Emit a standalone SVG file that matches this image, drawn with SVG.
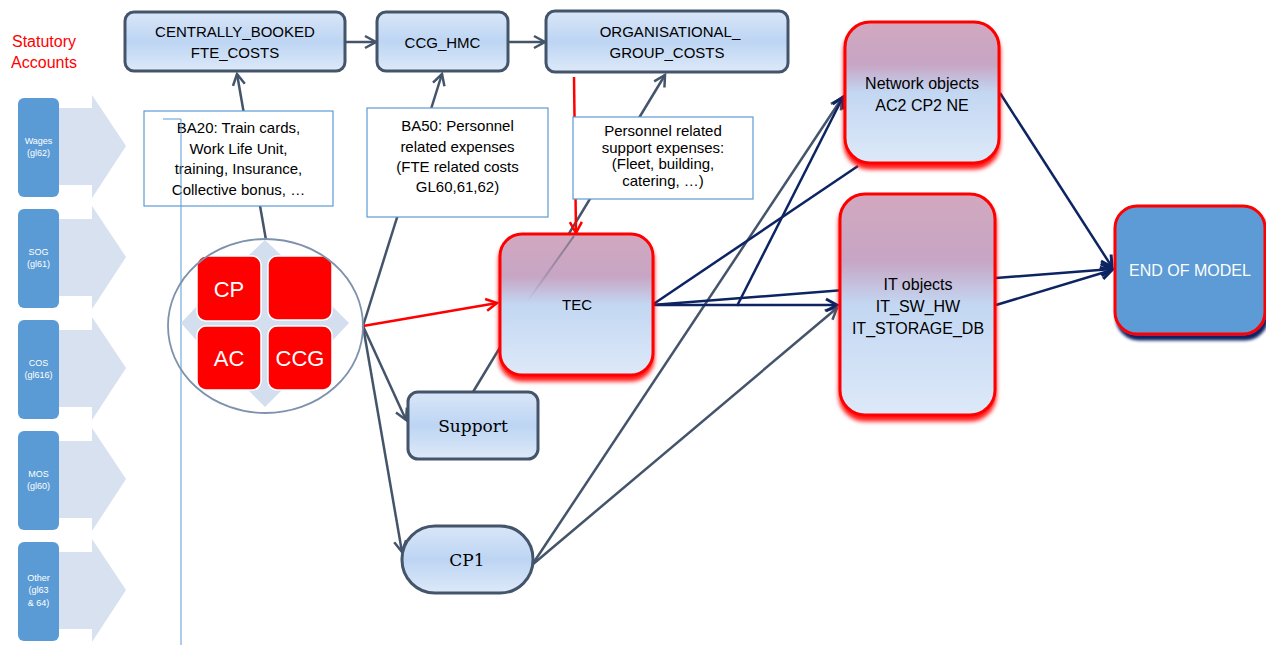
<svg xmlns="http://www.w3.org/2000/svg" width="1266" height="645" viewBox="0 0 1266 645">
<style>
.lbl{font-family:"Liberation Sans",Arial,sans-serif;font-size:15px;fill:#000;text-anchor:middle}
.big{font-size:16px}
.serif{font-family:"DejaVu Serif","Liberation Serif",serif;font-size:17px;fill:#000;text-anchor:middle}
.acc{font-family:"Liberation Sans",Arial,sans-serif;font-size:9px;fill:#fff;text-anchor:middle}
.sq{font-family:"Liberation Sans",Arial,sans-serif;font-size:22px;fill:#fff;text-anchor:middle}
.node{fill:url(#gBlue);stroke:#44546a;stroke-width:3}
.rnode{fill:url(#gRed);stroke:#ff0000;stroke-width:3;filter:url(#glow)}
.note{fill:#fff;stroke:#5b9bd5;stroke-width:1.2}
.g{stroke:#44546a;stroke-width:2.5;fill:none}
.n{stroke:#0d2463;stroke-width:2.5;fill:none}
.r{stroke:#ff0000;stroke-width:2.5;fill:none}
.acbox{fill:#5b9bd5}
.chev{fill:#d7e1ef}
.redsq{fill:#ff0000;stroke:#fff;stroke-width:1.5}
</style>
<defs>
<linearGradient id="gBlue" x1="0" y1="0" x2="0" y2="1">
<stop offset="0" stop-color="#d9e6f8"/><stop offset="0.5" stop-color="#bdd5f3"/><stop offset="1" stop-color="#dde9f9"/>
</linearGradient>
<linearGradient id="gRed" x1="0" y1="0" x2="0" y2="1">
<stop offset="0" stop-color="#d2a8bf"/><stop offset="0.3" stop-color="#c7a5c4"/><stop offset="0.5" stop-color="#c3d7f2"/><stop offset="1" stop-color="#dde9f9"/>
</linearGradient>
<linearGradient id="gFade" x1="0" y1="0" x2="0" y2="1">
<stop offset="0" stop-color="#44546a" stop-opacity="0.6"/><stop offset="1" stop-color="#44546a" stop-opacity="0"/>
</linearGradient>
<filter id="glow" x="-20%" y="-20%" width="140%" height="150%">
<feDropShadow dx="0" dy="5" stdDeviation="2" flood-color="#ff0000" flood-opacity="0.9"/>
</filter>
<filter id="navyShadow" x="-20%" y="-20%" width="140%" height="150%">
<feDropShadow dx="2" dy="5" stdDeviation="1.5" flood-color="#0d2463" flood-opacity="1"/>
</filter>
<marker id="ag" markerUnits="userSpaceOnUse" markerWidth="16" markerHeight="16" refX="13" refY="8" orient="auto"><path d="M2,2 L13,8 L2,14" fill="none" stroke="#44546a" stroke-width="2.5"/></marker>
<marker id="an" markerUnits="userSpaceOnUse" markerWidth="16" markerHeight="16" refX="13" refY="8" orient="auto"><path d="M2,2 L13,8 L2,14" fill="none" stroke="#0d2463" stroke-width="3"/></marker>
<marker id="ar" markerUnits="userSpaceOnUse" markerWidth="16" markerHeight="16" refX="13" refY="8" orient="auto"><path d="M2,2 L13,8 L2,14" fill="none" stroke="#ff0000" stroke-width="2.5"/></marker>
</defs>

<g id="statutory-title"><text x="44" y="47" font-family="Liberation Sans,Arial,sans-serif" font-size="16" fill="#ff0000" text-anchor="middle">Statutory</text><text x="44" y="68" font-family="Liberation Sans,Arial,sans-serif" font-size="16" fill="#ff0000" text-anchor="middle">Accounts</text></g>

<g id="acc-wages"><path class="chev" d="M59,108 H92 V95 L126,146 L92,198 V185 H59 Z"/><rect class="acbox" x="18" y="98" width="41" height="99" rx="6"/><text class="acc" x="38.5" y="144">Wages</text><text class="acc" x="38.5" y="156">(gl62)</text></g>
<g id="acc-sog"><path class="chev" d="M59,219 H92 V206 L126,257 L92,309 V296 H59 Z"/><rect class="acbox" x="18" y="209" width="41" height="99" rx="6"/><text class="acc" x="38.5" y="255">SOG</text><text class="acc" x="38.5" y="267">(gl61)</text></g>
<g id="acc-cos"><path class="chev" d="M59,330 H92 V317 L126,368 L92,420 V407 H59 Z"/><rect class="acbox" x="18" y="320" width="41" height="99" rx="6"/><text class="acc" x="38.5" y="366">COS</text><text class="acc" x="38.5" y="378">(gl616)</text></g>
<g id="acc-mos"><path class="chev" d="M59,441 H92 V428 L126,479 L92,531 V518 H59 Z"/><rect class="acbox" x="18" y="431" width="41" height="99" rx="6"/><text class="acc" x="38.5" y="477">MOS</text><text class="acc" x="38.5" y="489">(gl60)</text></g>
<g id="acc-other"><path class="chev" d="M59,552 H92 V539 L126,590 L92,642 V629 H59 Z"/><rect class="acbox" x="18" y="542" width="41" height="99" rx="6"/><text class="acc" x="38.5" y="581">Other</text><text class="acc" x="38.5" y="593">(gl63</text><text class="acc" x="38.5" y="606">&amp; 64)</text></g>

<g id="connectors">
<line class="g" x1="345" y1="42" x2="376" y2="42" marker-end="url(#ag)"/>
<line class="g" x1="508" y1="42" x2="545" y2="42" marker-end="url(#ag)"/>
<line class="g" x1="266" y1="240" x2="237" y2="74" marker-end="url(#ag)"/>
<line class="g" x1="363" y1="326" x2="442" y2="74" marker-end="url(#ag)"/>
<line class="g" x1="363" y1="326" x2="406" y2="420" marker-end="url(#ag)"/>
<line class="g" x1="363" y1="326" x2="402" y2="552" marker-end="url(#ag)"/>
<line class="g" x1="473" y1="392" x2="665" y2="75" marker-end="url(#ag)"/>
<line class="g" x1="532" y1="565" x2="842" y2="98" marker-end="url(#ag)"/>
<line class="g" x1="532" y1="565" x2="837" y2="308" marker-end="url(#ag)"/>
<line class="r" x1="363" y1="326" x2="497" y2="303" marker-end="url(#ar)"/>
<line class="r" x1="574" y1="77" x2="576" y2="233" marker-end="url(#ar)"/>
<line class="n" x1="652" y1="305" x2="858" y2="166"/>
<line class="n" x1="652" y1="305" x2="837" y2="305" marker-end="url(#an)"/>
<line class="n" x1="652" y1="305" x2="1112" y2="269" marker-end="url(#an)"/>
<line class="n" x1="737" y1="306" x2="843" y2="97" marker-end="url(#an)"/>
<line class="n" x1="996" y1="305" x2="1112" y2="270" marker-end="url(#an)"/>
<line class="n" x1="1000" y1="93" x2="1112" y2="267" marker-end="url(#an)"/>
</g>

<g id="cb"><rect class="node" x="125" y="12" width="220" height="59" rx="9"/><text class="lbl" x="235" y="37">CENTRALLY_BOOKED</text><text class="lbl" x="235" y="58">FTE_COSTS</text></g>
<g id="ccg-hmc"><rect class="node" x="377" y="12" width="131" height="59" rx="9"/><text class="lbl" x="442.5" y="48">CCG_HMC</text></g>
<g id="org"><rect class="node" x="546" y="11" width="242" height="61" rx="9"/><text class="lbl" x="670" y="37">ORGANISATIONAL_</text><text class="lbl" x="667" y="58">GROUP_COSTS</text></g>

<g id="note-ba20"><rect class="note" x="144" y="111" width="189" height="95"/><text class="lbl" x="238.5" y="133">BA20: Train cards,</text><text class="lbl" x="238.5" y="154">Work Life Unit,</text><text class="lbl" x="238.5" y="174">training, Insurance,</text><text class="lbl" x="238.5" y="195">Collective bonus, …</text></g>
<g id="note-ba50"><rect class="note" x="367" y="108" width="181" height="109"/><text class="lbl" x="457.5" y="131">BA50: Personnel</text><text class="lbl" x="457.5" y="152">related expenses</text><text class="lbl" x="457.5" y="172">(FTE related costs</text><text class="lbl" x="457.5" y="192">GL60,61,62)</text></g>
<g id="note-personnel"><rect class="note" x="573" y="117" width="180" height="82"/><text class="lbl" x="663" y="136" font-size="14">Personnel related</text><text class="lbl" x="663" y="153" font-size="14">support expenses:</text><text class="lbl" x="663" y="169" font-size="14">(Fleet, building,</text><text class="lbl" x="663" y="186" font-size="14">catering, …)</text></g>

<path id="guide" d="M163,119 H181 V645" fill="none" stroke="#5b9bd5" stroke-width="1"/>

<g id="cluster">
<path fill="#d3deef" d="M265,240 L282,256 V306 H332 L349,323 L332,341 H282 V390 L265,407 L248,390 V341 H197 L181,323 L197,306 H248 V256 Z"/>
<rect class="redsq" x="197" y="256" width="64" height="65" rx="9"/>
<rect class="redsq" x="268" y="256" width="64" height="64" rx="9"/>
<rect class="redsq" x="197" y="326" width="64" height="64" rx="9"/>
<rect class="redsq" x="268" y="326" width="64" height="64" rx="9"/>
<text class="sq" x="229" y="297">CP</text><text class="sq" x="229" y="366">AC</text><text class="sq" x="300" y="366">CCG</text>
<ellipse cx="265.5" cy="326" rx="97.5" ry="87" fill="none" stroke="#7f92ad" stroke-width="1.8"/>
</g>

<g id="tec"><rect class="rnode" x="500" y="234" width="153" height="141" rx="22"/><line x1="574" y1="236" x2="527" y2="302" stroke="url(#gFade)" stroke-width="2"/><text class="lbl" x="577" y="310">TEC</text></g>
<g id="support"><rect class="node" x="408" y="392" width="130" height="67" rx="10"/><text class="serif" x="473" y="432">Support</text></g>
<g id="cp1"><rect class="node" x="402" y="526" width="131" height="67" rx="33"/><text class="serif" x="467" y="566">CP1</text></g>
<g id="network"><rect class="rnode" x="845" y="22" width="154" height="141" rx="25"/><text class="lbl big" x="922" y="89">Network objects</text><text class="lbl big" x="922" y="111">AC2 CP2 NE</text></g>
<g id="it"><rect class="rnode" x="840" y="194" width="155" height="221" rx="25"/><text class="lbl big" x="918" y="290">IT objects</text><text class="lbl big" x="918" y="312">IT_SW_HW</text><text class="lbl big" x="918" y="334">IT_STORAGE_DB</text></g>
<g id="end"><rect x="1115" y="206" width="150" height="128" rx="22" fill="#5b9bd5" stroke="#ff0000" stroke-width="3" filter="url(#navyShadow)"/><text class="lbl big" x="1190" y="276" style="fill:#fff">END OF MODEL</text></g>
</svg>
